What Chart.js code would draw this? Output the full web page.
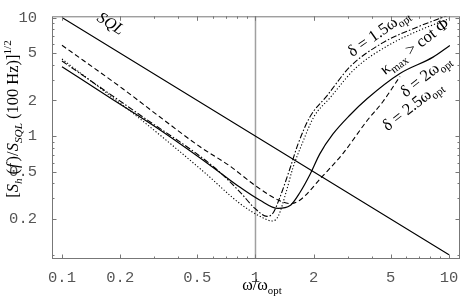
<!DOCTYPE html>
<html>
<head>
<meta charset="utf-8">
<script src="https://cdn.jsdelivr.net/npm/chart.js@4.4.1/dist/chart.umd.min.js"></script>
<style>
  html, body { margin: 0; padding: 0; background: #fff; }
  #wrap { width: 464px; height: 297px; }
</style>
</head>
<body>
<div id="wrap"><canvas id="chart" width="464" height="297"></canvas></div>
<script>
// tick labels
const xTicks = [0.1, 0.2, 0.5, 1, 2, 5, 10];
const yTicks = [0.2, 0.5, 1, 2, 5, 10];

// SQL line
const sqlX = [0.1, 10];
const sqlY = [10, 0.1];

// delta = 2 w_opt (solid)
const d20X = [0.1, 0.177, 0.313, 0.582, 0.832, 1.05, 1.31, 1.51, 1.70, 1.91, 2.15, 2.51, 3.08, 3.77, 5.58, 8.27, 10.1];
const d20Y = [3.85, 2.11, 1.16, 0.57, 0.371, 0.29, 0.246, 0.26, 0.337, 0.473, 0.71, 1.04, 1.51, 2.07, 3.38, 4.64, 5.81];

// delta = 2.5 w_opt (dashed)
const d25X = [0.1, 0.207, 0.321, 0.517, 0.738, 0.994, 1.31, 1.51, 1.70, 2.21, 2.83, 3.77, 4.56, 5.58];
const d25Y = [5.84, 2.50, 1.45, 0.814, 0.56, 0.385, 0.29, 0.27, 0.29, 0.456, 0.714, 1.35, 1.96, 3.19];

// delta = 1.5 w_opt (dash-dot)
const d15X = [0.1, 0.253, 0.618, 0.832, 0.994, 1.147, 1.23, 1.34, 1.51, 1.66, 1.91, 2.34, 3.08, 4.56, 6.83, 10.1];
const d15Y = [4.31, 1.51, 0.539, 0.338, 0.246, 0.211, 0.224, 0.308, 0.539, 0.861, 1.45, 2.19, 3.85, 6.15, 8.29, 10.6];

// kappa_max > cot Phi (dotted)
const kapX = [0.1, 0.253, 0.548, 0.832, 1.08, 1.22, 1.31, 1.44, 1.56, 1.74, 2.00, 2.43, 3.27, 4.84, 7.08, 10.1];
const kapY = [4.47, 1.40, 0.491, 0.27, 0.207, 0.193, 0.211, 0.338, 0.539, 0.861, 1.45, 2.11, 3.71, 5.81, 7.84, 9.82];

const pts = (xs, ys) => xs.map((x, i) => ({ x: x, y: ys[i] }));

function line(label, xs, ys, dash, width) {
    return {
        label: label,
        data: pts(xs, ys),
        borderColor: '#000',
        borderWidth: width,
        borderDash: dash,
        pointRadius: 0,
        showLine: true,
        fill: false,
        cubicInterpolationMode: 'monotone',
    };
}

// draws a run of text pieces with sub/superscripts, centred at (cx, cy)
function richText(ctx, parts, cx, cy, angle, size) {
    ctx.save();
    ctx.translate(cx, cy);
    ctx.rotate(angle);
    ctx.textBaseline = 'alphabetic';
    ctx.fillStyle = '#000';
    const fontOf = p => {
        const s = (p.sub || p.sup) ? size * 0.68 : size;
        return (p.italic ? 'italic ' : '') + s + 'px "Liberation Serif", "Times New Roman", serif';
    };
    const gapOf = p => p.gap || 0;
    let total = 0;
    parts.forEach(p => { ctx.font = fontOf(p); total += ctx.measureText(p.t).width + gapOf(p); });
    let x = -total / 2;
    parts.forEach(p => {
        ctx.font = fontOf(p);
        let dy = size * 0.35;
        if (p.sub) dy += size * 0.25;
        if (p.sup) dy -= size * 0.42;
        ctx.fillText(p.t, x, dy);
        x += ctx.measureText(p.t).width + gapOf(p);
    });
    ctx.restore();
}

const framePlugin = {
    id: 'frame',
    beforeDatasetsDraw(chart) {
        const { ctx, chartArea: a, scales } = chart;
        const x1 = scales.x.getPixelForValue(1);
        ctx.save();
        ctx.strokeStyle = '#a0a0a0';
        ctx.lineWidth = 1.5;
        ctx.beginPath();
        ctx.moveTo(x1, a.top);
        ctx.lineTo(x1, a.bottom);
        ctx.stroke();
        ctx.restore();
    },
    afterDraw(chart) {
        const { ctx, chartArea: a, scales } = chart;
        ctx.save();
        ctx.strokeStyle = '#777';
        ctx.lineWidth = 1;
        ctx.strokeRect(a.left + 0.5, a.top + 0.5, a.right - a.left - 1, a.bottom - a.top - 1);

        // tick marks on all four sides, pointing inward
        ctx.beginPath();
        [0.1, 1, 10].forEach(dec => {
            for (let k = 1; k <= 9; k++) {
                const v = dec * k;
                const major = xTicks.includes(+v.toFixed(3));
                const len = major ? 4.5 : 2.5;
                const px = Math.round(scales.x.getPixelForValue(v)) + 0.5;
                if (px > a.left && px < a.right) {
                    ctx.moveTo(px, a.bottom); ctx.lineTo(px, a.bottom - len);
                    ctx.moveTo(px, a.top); ctx.lineTo(px, a.top + len);
                }
            }
        });
        [0.1, 1, 10].forEach(dec => {
            for (let k = 1; k <= 9; k++) {
                const v = dec * k;
                const major = yTicks.includes(+v.toFixed(3));
                const len = major ? 4.5 : 2.5;
                const py = Math.round(scales.y.getPixelForValue(v)) + 0.5;
                if (py > a.top && py < a.bottom) {
                    ctx.moveTo(a.left, py); ctx.lineTo(a.left + len, py);
                    ctx.moveTo(a.right, py); ctx.lineTo(a.right - len, py);
                }
            }
        });
        ctx.stroke();
        ctx.restore();

        const deg = Math.PI / 180;
        // axis titles
        richText(ctx, [
            { t: 'ω/ω' }, { t: 'opt', sub: true },
        ], 262, 284, 0, 16);
        richText(ctx, [
            { t: '[' }, { t: 'S', italic: true }, { t: 'h', italic: true, sub: true, gap: 4 },
            { t: '(', gap: 1 }, { t: 'f', italic: true, gap: 2 }, { t: ')/' },
            { t: 'S', italic: true }, { t: 'SQL', italic: true, sub: true, gap: 4 },
            { t: '(100 Hz)]' }, { t: '1/2', sup: true },
        ], 12, 119, -90 * deg, 16.5);

        // curve labels
        richText(ctx, [{ t: 'SQL', italic: true }], 111, 23, 33 * deg, 16);
        richText(ctx, [{ t: 'δ = 1.5ω' }, { t: 'opt', sub: true }], 378, 32, -35 * deg, 16.5);
        richText(ctx, [{ t: 'κ' }, { t: 'max', sub: true }, { t: ' > cot Φ' }], 414, 46, -37 * deg, 16.5);
        richText(ctx, [{ t: 'δ = 2ω' }, { t: 'opt', sub: true }], 425, 75, -38 * deg, 16.5);
        richText(ctx, [{ t: 'δ = 2.5ω' }, { t: 'opt', sub: true }], 412, 105, -38 * deg, 16.5);
    },
};

const tickFont = { family: '"Liberation Mono", "Courier New", monospace', size: 15.5 };

new Chart(document.getElementById('chart').getContext('2d'), {
    type: 'scatter',
    data: {
        datasets: [
            line('SQL', sqlX, sqlY, [], 1.1),
            line('delta = 2', d20X, d20Y, [], 1.2),
            line('delta = 2.5', d25X, d25Y, [5, 3], 1.1),
            line('delta = 1.5', d15X, d15Y, [6, 2, 1.5, 2], 1.1),
            line('kappa', kapX, kapY, [1.2, 2], 1.1),
        ],
    },
    options: {
        responsive: false,
        animation: false,
        events: [],
        layout: { padding: { top: 8, right: 4, left: 0, bottom: 0 } },
        plugins: { legend: { display: false }, tooltip: { enabled: false } },
        scales: {
            x: {
                type: 'logarithmic',
                min: 0.0888,
                max: 11.4,
                grid: { display: false },
                border: { display: false },
                afterBuildTicks: s => { s.ticks = xTicks.map(v => ({ value: v })); },
                afterFit: s => { s.height = 38; },
                ticks: {
                    autoSkip: false,
                    maxRotation: 0,
                    padding: 2,
                    color: '#555',
                    font: tickFont,
                    callback: v => String(v),
                },
            },
            y: {
                type: 'logarithmic',
                min: 0.0922,
                max: 10.25,
                grid: { display: false },
                border: { display: false },
                afterBuildTicks: s => { s.ticks = yTicks.map(v => ({ value: v })); },
                afterFit: s => { s.width = 52; },
                ticks: {
                    autoSkip: false,
                    padding: 7,
                    color: '#555',
                    font: tickFont,
                    callback: v => String(v),
                },
            },
        },
    },
    plugins: [framePlugin],
});
</script>
</body>
</html>
